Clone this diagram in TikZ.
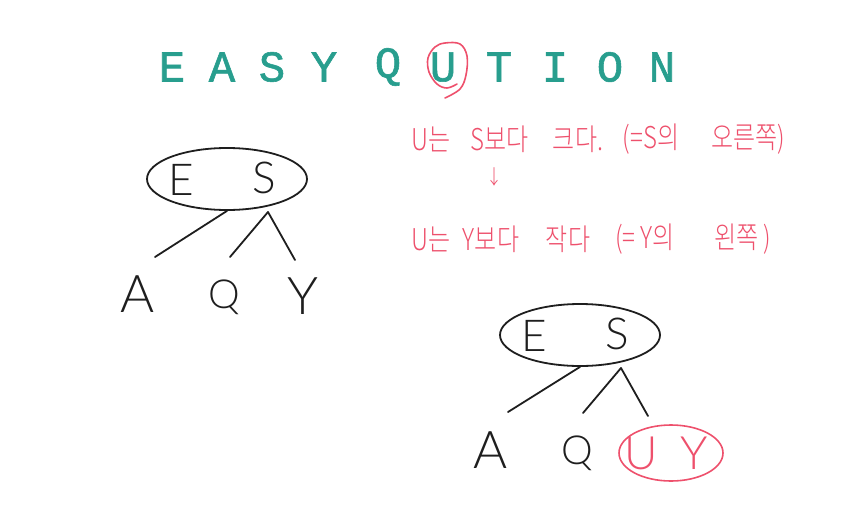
\documentclass[tikz,border=0pt]{standalone}
\usepackage{fontspec}
\setmainfont{Lato}
\IfFontExistsTF{Lato Light}{\newfontfamily\hand{Lato Light}}{\newfontfamily\hand{Lato}}
\newfontfamily\mono[FakeBold=1.3]{Liberation Mono}
\IfFontExistsTF{Noto Sans CJK KR Light}{\newfontfamily\kr{Noto Sans CJK KR Light}}{\newfontfamily\kr{Noto Sans CJK KR}}
\usetikzlibrary{shapes.geometric}
\definecolor{titlecol}{RGB}{40,158,142}
\definecolor{pen}{RGB}{238,80,108}
\definecolor{ink}{RGB}{30,30,30}
\begin{document}
\begin{tikzpicture}[x=1pt,y=-1pt,
  titleletter/.style={text=titlecol,font=\mono\fontsize{44}{44}\selectfont,inner sep=0pt},
  handletter/.style={text=ink,font=\hand\fontsize{44}{44}\selectfont,inner sep=0pt},
  bigletter/.style={text=ink,font=\hand\fontsize{52}{52}\selectfont,inner sep=0pt},
  qletter/.style={text=ink,font=\hand\fontsize{40}{40}\selectfont,inner sep=0pt},
  redletter/.style={text=pen,font=\hand\fontsize{46}{46}\selectfont,inner sep=0pt},
  note/.style={text=pen,font=\kr\fontsize{30}{30}\selectfont,inner sep=0pt,xscale=0.8,transform shape},
  keynode/.style={draw=ink,line width=1.8pt,ellipse,minimum width=160pt,minimum height=62pt,inner sep=0pt},
  branch/.style={draw=ink,line width=1.8pt,line cap=round},
  redring/.style={draw=pen,line width=1.6pt,line cap=round}]
\useasboundingbox[fill=white] (0,0) rectangle (866,530);

% title
\foreach \l/\x [count=\i] in {E/172,A/222,S/272,Y/324,Q/388,U/443,T/499,I/555,O/610,N/662}
  \node[titleletter] (t\i) at (\x,67) {\l};
\draw[redring] plot[smooth,tension=0.6] coordinates {(457,84) (447,88) (437,84) (429,72) (428,58) (435,47) (445,43) (460,44) (467,56) (466,75) (460,89) (445,98)};

% left tree
\node[keynode] (lroot) at (227,179) {};
\node[handletter] (lE) at (181,180) {E};
\node[handletter] (lS) at (264,178) {S};
\node[bigletter] (lA) at (138,294) {A};
\node[qletter] (lQ) at (224,297) {Q};
\node[bigletter] (lY) at (303,296) {Y};
\coordinate (lc1) at (155,257);
\coordinate (lc2) at (230,257);
\coordinate (lc3) at (295,260);
\coordinate (lr2) at (268,212);
\draw[branch] (lroot.south) -- (lc1);
\draw[branch] (lr2) -- (lc2);
\draw[branch] (lr2) -- (lc3);

% notes
\node[note] (n1) at (431,139) {U는};
\node[note] (n2) at (500,139) {S보다};
\node[note] (n3) at (578,139) {크다.};
\node[note] (n4) at (651,139) {(=S의};
\node[note] (n5) at (748,139) {오른쪽)};
\node[note,font=\kr\fontsize{20}{20}\selectfont] (arr) at (494,177) {↓};
\node[note] (m1) at (431,239) {U는};
\node[note] (m2) at (491,239) {Y보다};
\node[note] (m3) at (568,239) {작다};
\node[note] (m4) at (645,239) {(= Y의};
\node[note] (m5) at (743,239) {왼쪽 )};

% right tree
\node[keynode] (rroot) at (580,335) {};
\node[handletter] (rE) at (534,336) {E};
\node[handletter] (rS) at (617,334) {S};
\node[bigletter] (rA) at (491,450) {A};
\node[qletter] (rQ) at (577,453) {Q};
\node[redletter] (rU) at (641,453) {U};
\node[redletter] (rY) at (694,453) {Y};
\node[redring,ellipse,minimum width=104pt,minimum height=56pt,inner sep=0pt] (uy) at (671,453) {};
\coordinate (rc1) at (508,412);
\coordinate (rc2) at (583,413);
\coordinate (rc3) at (648,416);
\coordinate (rr2) at (621,368);
\draw[branch] (rroot.south) -- (rc1);
\draw[branch] (rr2) -- (rc2);
\draw[branch] (rr2) -- (rc3);
\end{tikzpicture}
\end{document}
